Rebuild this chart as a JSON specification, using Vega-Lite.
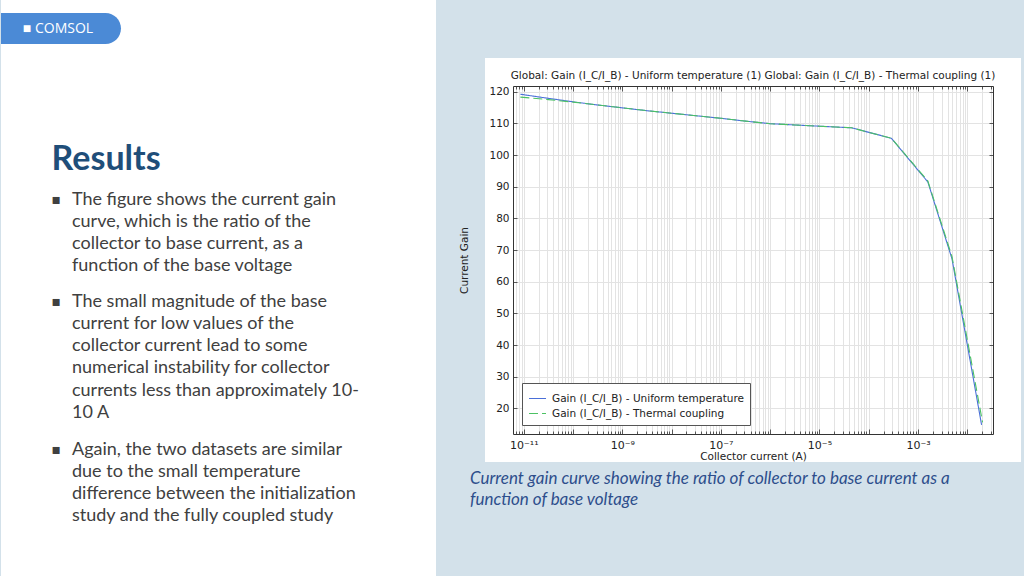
{
  "$schema": "https://vega.github.io/schema/vega-lite/v6.json",
  "background": "#d3e1ea",
  "padding": 0,
  "spacing": -5,
  "resolve": {"scale": {"color": "independent", "strokeDash": "independent"}, "legend": {"color": "independent", "strokeDash": "independent"}},
  "config": {
    "font": "DejaVu Sans",
    "view": {"stroke": null},
    "axis": {
      "labelFont": "DejaVu Sans", "labelFontSize": 10.5, "labelColor": "#222222",
      "titleFont": "DejaVu Sans", "titleFontSize": 10.5, "titleFontWeight": "normal", "titleColor": "#222222",
      "domainColor": "#333333", "domainWidth": 1, "tickColor": "#333333", "tickWidth": 0.8,
      "gridColor": "#e3e3e3", "gridWidth": 1, "labelFlush": false, "labelOverlap": false
    },
    "legend": {
      "orient": "bottom-left", "offset": 9, "fillColor": "white", "strokeColor": "#555555",
      "padding": 6, "labelFont": "DejaVu Sans", "labelFontSize": 10.5, "labelColor": "#222222",
      "labelLimit": 400, "symbolSize": 289, "symbolStrokeWidth": 1.2, "rowPadding": 0,
      "labelOffset": 5, "symbolType": "stroke"
    }
  },
  "hconcat": [
    {
      "width": 435, "height": 576,
      "view": {"fill": "white", "stroke": null},
      "data": {"values": [
        {"bullet": 1, "marker": "▪", "text": "The figure shows the current gain\ncurve, which is the ratio of the\ncollector to base current, as a\nfunction of the base voltage"},
        {"bullet": 2, "marker": "▪", "text": "The small magnitude of the base\ncurrent for low values of the\ncollector current lead to some\nnumerical instability for collector\ncurrents less than approximately 10-\n10 A"},
        {"bullet": 3, "marker": "▪", "text": "Again, the two datasets are similar\ndue to the small temperature\ndifference between the initialization\nstudy and the fully coupled study"}
      ]},
      "resolve": {"scale": {"x": "independent", "y": "independent"}},
      "layer": [
        {
          "data": {"values": [{"logo": "COMSOL"}]},
          "mark": {"type": "point", "filled": true, "opacity": 1, "color": "#4b8ad6", "size": 14400,
                   "shape": "M-1,-0.2583 L0.7417,-0.2583 A0.2583,0.2583 0 0 1 0.7417,0.2583 L-1,0.2583 Z"},
          "encoding": {
            "x": {"datum": "p", "type": "nominal", "scale": {"type": "point", "align": 0.1379}, "axis": null},
            "y": {"datum": "p", "type": "nominal", "scale": {"type": "point", "align": 0.04948}, "axis": null}
          }
        },
        {
          "data": {"values": [{"logo": "■ COMSOL"}]},
          "mark": {"type": "text", "align": "center", "baseline": "middle", "color": "white", "font": "Open Sans", "fontSize": 14},
          "encoding": {
            "text": {"field": "logo"},
            "x": {"datum": "l", "type": "nominal", "scale": {"type": "point", "align": 0.131}, "axis": null},
            "y": {"datum": "l", "type": "nominal", "scale": {"type": "point", "align": 0.04948}, "axis": null}
          }
        },
        {
          "data": {"values": [{"heading": "Results"}]},
          "mark": {"type": "text", "align": "left", "baseline": "alphabetic", "font": "Lato", "fontSize": 34, "fontWeight": "bold", "color": "#1f4e79"},
          "encoding": {
            "text": {"field": "heading"},
            "x": {"datum": "h", "type": "nominal", "scale": {"type": "point", "align": 0.1163}, "axis": null},
            "y": {"datum": "h", "type": "nominal", "scale": {"type": "point", "align": 0.2943}, "axis": null}
          }
        },
        {
          "transform": [{"filter": "datum.bullet == 1"}],
          "mark": {"type": "text", "align": "center", "baseline": "middle", "font": "DejaVu Sans", "fontSize": 14, "color": "#404040"},
          "encoding": {
            "text": {"field": "marker"},
            "x": {"datum": "m", "type": "nominal", "scale": {"type": "point", "align": 0.1269}, "axis": null},
            "y": {"datum": "b1", "type": "nominal", "scale": {"type": "point", "align": 0.3471}, "axis": null}
          }
        },
        {
          "transform": [{"filter": "datum.bullet == 1"}],
          "mark": {"type": "text", "align": "left", "baseline": "middle", "font": "Lato", "fontSize": 18, "lineHeight": 22, "lineBreak": "\n", "color": "#404040"},
          "encoding": {
            "text": {"field": "text"},
            "x": {"datum": "t", "type": "nominal", "scale": {"type": "point", "align": 0.1632}, "axis": null},
            "y": {"datum": "b1", "type": "nominal", "scale": {"type": "point", "align": 0.3471}, "axis": null}
          }
        },
        {
          "transform": [{"filter": "datum.bullet == 2"}],
          "mark": {"type": "text", "align": "center", "baseline": "middle", "font": "DejaVu Sans", "fontSize": 14, "color": "#404040"},
          "encoding": {
            "text": {"field": "marker"},
            "x": {"datum": "m", "type": "nominal", "scale": {"type": "point", "align": 0.1269}, "axis": null},
            "y": {"datum": "b2", "type": "nominal", "scale": {"type": "point", "align": 0.5241}, "axis": null}
          }
        },
        {
          "transform": [{"filter": "datum.bullet == 2"}],
          "mark": {"type": "text", "align": "left", "baseline": "middle", "font": "Lato", "fontSize": 18, "lineHeight": 22.2, "lineBreak": "\n", "color": "#404040"},
          "encoding": {
            "text": {"field": "text"},
            "x": {"datum": "t", "type": "nominal", "scale": {"type": "point", "align": 0.1632}, "axis": null},
            "y": {"datum": "b2", "type": "nominal", "scale": {"type": "point", "align": 0.5241}, "axis": null}
          }
        },
        {
          "transform": [{"filter": "datum.bullet == 3"}],
          "mark": {"type": "text", "align": "center", "baseline": "middle", "font": "DejaVu Sans", "fontSize": 14, "color": "#404040"},
          "encoding": {
            "text": {"field": "marker"},
            "x": {"datum": "m", "type": "nominal", "scale": {"type": "point", "align": 0.1269}, "axis": null},
            "y": {"datum": "b3", "type": "nominal", "scale": {"type": "point", "align": 0.7806}, "axis": null}
          }
        },
        {
          "transform": [{"filter": "datum.bullet == 3"}],
          "mark": {"type": "text", "align": "left", "baseline": "middle", "font": "Lato", "fontSize": 18, "lineHeight": 22, "lineBreak": "\n", "color": "#404040"},
          "encoding": {
            "text": {"field": "text"},
            "x": {"datum": "t", "type": "nominal", "scale": {"type": "point", "align": 0.1632}, "axis": null},
            "y": {"datum": "b3", "type": "nominal", "scale": {"type": "point", "align": 0.7806}, "axis": null}
          }
        }
      ]
    },
    {
      "spacing": 0,
      "resolve": {"scale": {"color": "independent", "strokeDash": "independent"}, "legend": {"color": "independent", "strokeDash": "independent"}},
      "title": {
        "text": ["Current gain curve showing the ratio of collector to base current as a", "function of base voltage"],
        "orient": "bottom", "anchor": "start", "frame": "group", "dx": -43, "offset": -19,
        "baseline": "top", "font": "Lato", "fontSize": 17, "fontStyle": "italic", "fontWeight": "normal",
        "color": "#2d4e8c", "lineHeight": 21
      },
      "vconcat": [
        {"data": {"values": []}, "mark": "point", "width": 509, "height": 42.2},
        {
          "width": 480, "height": 348,
          "view": {"stroke": "white", "strokeWidth": 56, "fill": "white"},
          "title": {
            "text": "Global: Gain (I_C/I_B) - Uniform temperature (1)  Global: Gain (I_C/I_B) - Thermal coupling (1)",
            "anchor": "middle", "frame": "group", "font": "DejaVu Sans", "fontSize": 10.5,
            "fontWeight": "normal", "color": "#222222", "offset": -6, "baseline": "bottom"
          },
          "data": {"values": [
            {"series": "Gain (I_C/I_B) - Uniform temperature", "current": 8.51e-12, "gain": 119.2},
            {"series": "Gain (I_C/I_B) - Uniform temperature", "current": 3.162e-11, "gain": 117.9},
            {"series": "Gain (I_C/I_B) - Uniform temperature", "current": 1e-10, "gain": 116.8},
            {"series": "Gain (I_C/I_B) - Uniform temperature", "current": 3.162e-10, "gain": 115.8},
            {"series": "Gain (I_C/I_B) - Uniform temperature", "current": 1e-9, "gain": 114.9},
            {"series": "Gain (I_C/I_B) - Uniform temperature", "current": 3.162e-9, "gain": 114.0},
            {"series": "Gain (I_C/I_B) - Uniform temperature", "current": 1e-8, "gain": 113.2},
            {"series": "Gain (I_C/I_B) - Uniform temperature", "current": 3.162e-8, "gain": 112.4},
            {"series": "Gain (I_C/I_B) - Uniform temperature", "current": 1e-7, "gain": 111.6},
            {"series": "Gain (I_C/I_B) - Uniform temperature", "current": 3.162e-7, "gain": 110.7},
            {"series": "Gain (I_C/I_B) - Uniform temperature", "current": 1e-6, "gain": 109.9},
            {"series": "Gain (I_C/I_B) - Uniform temperature", "current": 3.162e-6, "gain": 109.5},
            {"series": "Gain (I_C/I_B) - Uniform temperature", "current": 1e-5, "gain": 109.1},
            {"series": "Gain (I_C/I_B) - Uniform temperature", "current": 4.47e-5, "gain": 108.6},
            {"series": "Gain (I_C/I_B) - Uniform temperature", "current": 2.88e-4, "gain": 105.3},
            {"series": "Gain (I_C/I_B) - Uniform temperature", "current": 1.585e-3, "gain": 91.5},
            {"series": "Gain (I_C/I_B) - Uniform temperature", "current": 4.9e-3, "gain": 67.2},
            {"series": "Gain (I_C/I_B) - Uniform temperature", "current": 1.95e-2, "gain": 14.8},
            {"series": "Gain (I_C/I_B) - Thermal coupling", "current": 8.51e-12, "gain": 118.3},
            {"series": "Gain (I_C/I_B) - Thermal coupling", "current": 3.162e-11, "gain": 117.5},
            {"series": "Gain (I_C/I_B) - Thermal coupling", "current": 1e-10, "gain": 116.7},
            {"series": "Gain (I_C/I_B) - Thermal coupling", "current": 3.162e-10, "gain": 115.8},
            {"series": "Gain (I_C/I_B) - Thermal coupling", "current": 1e-9, "gain": 114.9},
            {"series": "Gain (I_C/I_B) - Thermal coupling", "current": 3.162e-9, "gain": 114.0},
            {"series": "Gain (I_C/I_B) - Thermal coupling", "current": 1e-8, "gain": 113.2},
            {"series": "Gain (I_C/I_B) - Thermal coupling", "current": 3.162e-8, "gain": 112.4},
            {"series": "Gain (I_C/I_B) - Thermal coupling", "current": 1e-7, "gain": 111.6},
            {"series": "Gain (I_C/I_B) - Thermal coupling", "current": 3.162e-7, "gain": 110.7},
            {"series": "Gain (I_C/I_B) - Thermal coupling", "current": 1e-6, "gain": 109.9},
            {"series": "Gain (I_C/I_B) - Thermal coupling", "current": 3.162e-6, "gain": 109.5},
            {"series": "Gain (I_C/I_B) - Thermal coupling", "current": 1e-5, "gain": 109.1},
            {"series": "Gain (I_C/I_B) - Thermal coupling", "current": 4.47e-5, "gain": 108.6},
            {"series": "Gain (I_C/I_B) - Thermal coupling", "current": 2.88e-4, "gain": 105.3},
            {"series": "Gain (I_C/I_B) - Thermal coupling", "current": 1.585e-3, "gain": 91.8},
            {"series": "Gain (I_C/I_B) - Thermal coupling", "current": 4.9e-3, "gain": 67.9},
            {"series": "Gain (I_C/I_B) - Thermal coupling", "current": 2.04e-2, "gain": 15.6}
          ]},
          "resolve": {"axis": {"x": "independent", "y": "independent"}},
          "layer": [
            {
              "transform": [{"filter": {"field": "series", "equal": "Gain (I_C/I_B) - Uniform temperature"}}],
              "mark": {"type": "line", "strokeWidth": 1.1},
              "encoding": {
                "x": {
                  "field": "current", "type": "quantitative",
                  "scale": {"type": "log", "domain": [6.03e-12, 0.03327], "nice": false},
                  "axis": {
                    "orient": "bottom", "title": "Collector current (A)",
                    "values": [7e-12,8e-12,9e-12,1e-11,2e-11,3e-11,4e-11,5e-11,6e-11,7e-11,8e-11,9e-11,1e-10,2e-10,3e-10,4e-10,5e-10,6e-10,7e-10,8e-10,9e-10,1e-9,2e-9,3e-9,4e-9,5e-9,6e-9,7e-9,8e-9,9e-9,1e-8,2e-8,3e-8,4e-8,5e-8,6e-8,7e-8,8e-8,9e-8,1e-7,2e-7,3e-7,4e-7,5e-7,6e-7,7e-7,8e-7,9e-7,1e-6,2e-6,3e-6,4e-6,5e-6,6e-6,7e-6,8e-6,9e-6,1e-5,2e-5,3e-5,4e-5,5e-5,6e-5,7e-5,8e-5,9e-5,1e-4,2e-4,3e-4,4e-4,5e-4,6e-4,7e-4,8e-4,9e-4,0.001,0.002,0.003,0.004,0.005,0.006,0.007,0.008,0.009,0.01,0.02,0.03],
                    "grid": true,
                    "tickSize": {"condition": {"test": "abs(log(datum.value)/LN10 - round(log(datum.value)/LN10)) < 0.001", "value": -5}, "value": -3},
                    "labelExpr": "datum.value == 1e-11 ? '10⁻¹¹' : datum.value == 1e-9 ? '10⁻⁹' : datum.value == 1e-7 ? '10⁻⁷' : datum.value == 1e-5 ? '10⁻⁵' : datum.value == 0.001 ? '10⁻³' : ''",
                    "labelFontSize": 11, "labelPadding": 10.5, "titlePadding": -1
                  }
                },
                "y": {
                  "field": "gain", "type": "quantitative",
                  "scale": {"domain": [11.9, 121.8], "nice": false, "zero": false},
                  "axis": {
                    "orient": "left", "title": "Current Gain",
                    "values": [20,30,40,50,60,70,80,90,100,110,120],
                    "grid": true, "tickSize": -4, "labelPadding": 8, "titlePadding": 19
                  }
                },
                "color": {
                  "field": "series", "type": "nominal",
                  "scale": {"domain": ["Gain (I_C/I_B) - Uniform temperature", "Gain (I_C/I_B) - Thermal coupling"], "range": ["#4a6fd8", "#4cc264"]},
                  "legend": {"title": null}
                },
                "strokeDash": {
                  "field": "series", "type": "nominal",
                  "scale": {"domain": ["Gain (I_C/I_B) - Uniform temperature", "Gain (I_C/I_B) - Thermal coupling"], "range": [[1, 0], [9, 4]]},
                  "legend": {"title": null}
                }
              }
            },
            {
              "transform": [{"filter": {"field": "series", "equal": "Gain (I_C/I_B) - Thermal coupling"}}],
              "mark": {"type": "line", "strokeWidth": 1.1},
              "encoding": {
                "x": {
                  "field": "current", "type": "quantitative",
                  "scale": {"type": "log", "domain": [6.03e-12, 0.03327], "nice": false},
                  "axis": {
                    "orient": "top", "title": null, "labels": false, "grid": false,
                    "values": [7e-12,8e-12,9e-12,1e-11,2e-11,3e-11,4e-11,5e-11,6e-11,7e-11,8e-11,9e-11,1e-10,2e-10,3e-10,4e-10,5e-10,6e-10,7e-10,8e-10,9e-10,1e-9,2e-9,3e-9,4e-9,5e-9,6e-9,7e-9,8e-9,9e-9,1e-8,2e-8,3e-8,4e-8,5e-8,6e-8,7e-8,8e-8,9e-8,1e-7,2e-7,3e-7,4e-7,5e-7,6e-7,7e-7,8e-7,9e-7,1e-6,2e-6,3e-6,4e-6,5e-6,6e-6,7e-6,8e-6,9e-6,1e-5,2e-5,3e-5,4e-5,5e-5,6e-5,7e-5,8e-5,9e-5,1e-4,2e-4,3e-4,4e-4,5e-4,6e-4,7e-4,8e-4,9e-4,0.001,0.002,0.003,0.004,0.005,0.006,0.007,0.008,0.009,0.01,0.02,0.03],
                    "tickSize": {"condition": {"test": "abs(log(datum.value)/LN10 - round(log(datum.value)/LN10)) < 0.001", "value": -5}, "value": -3}
                  }
                },
                "y": {
                  "field": "gain", "type": "quantitative",
                  "scale": {"domain": [11.9, 121.8], "nice": false, "zero": false},
                  "axis": {
                    "orient": "right", "title": null, "labels": false, "grid": false,
                    "values": [20,30,40,50,60,70,80,90,100,110,120], "tickSize": -4
                  }
                },
                "color": {
                  "field": "series", "type": "nominal",
                  "scale": {"domain": ["Gain (I_C/I_B) - Uniform temperature", "Gain (I_C/I_B) - Thermal coupling"], "range": ["#4a6fd8", "#4cc264"]},
                  "legend": {"title": null}
                },
                "strokeDash": {
                  "field": "series", "type": "nominal",
                  "scale": {"domain": ["Gain (I_C/I_B) - Uniform temperature", "Gain (I_C/I_B) - Thermal coupling"], "range": [[1, 0], [9, 4]]},
                  "legend": {"title": null}
                }
              }
            }
          ]
        }
      ]
    }
  ]
}
